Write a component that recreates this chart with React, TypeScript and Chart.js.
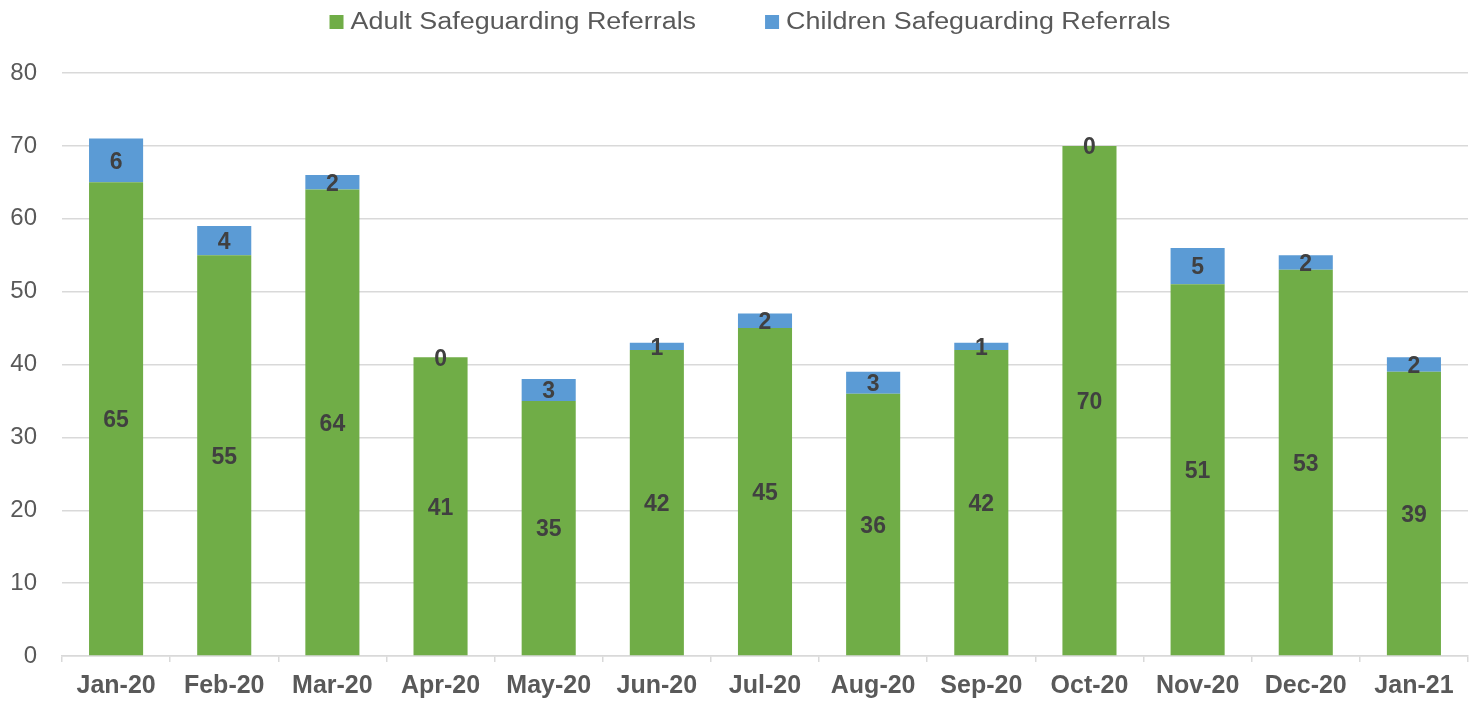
import React, { useEffect, useRef } from "react";
import { Chart, registerables } from "chart.js";

Chart.register(...registerables);

const months = ["Jan-20", "Feb-20", "Mar-20", "Apr-20", "May-20", "Jun-20", "Jul-20", "Aug-20", "Sep-20", "Oct-20", "Nov-20", "Dec-20", "Jan-21"];
const adultReferrals = [65, 55, 64, 41, 35, 42, 45, 36, 42, 70, 51, 53, 39];
const childrenReferrals = [6, 4, 2, 0, 3, 1, 2, 3, 1, 0, 5, 2, 2];
const seriesNames = ["Adult Safeguarding Referrals", "Children Safeguarding Referrals"];
const seriesColors = ["#70AD47", "#5B9BD5"];

const FONT = "'Liberation Sans', Arial, sans-serif";

const dataLabelPlugin = {
  id: "dataLabels",
  afterDatasetsDraw(chart: any) {
    const ctx = chart.ctx;
    ctx.save();
    ctx.font = `bold 23px ${FONT}`;
    ctx.fillStyle = "#404040";
    ctx.textAlign = "center";
    ctx.textBaseline = "middle";
    chart.data.datasets.forEach((ds: any, di: number) => {
      const meta = chart.getDatasetMeta(di);
      meta.data.forEach((el: any, i: number) => {
        const v = ds.data[i];
        const y = (el.y + el.base) / 2;
        ctx.fillText(String(v), el.x, y + 2);
      });
    });
    ctx.restore();
  },
};

const customLegendPlugin = {
  id: "customLegend",
  afterDraw(chart: any) {
    const ctx = chart.ctx;
    ctx.save();
    ctx.font = `23px ${FONT}`;
    ctx.textBaseline = "middle";
    ctx.textAlign = "left";
    const sx = 1.17;
    const box = 14;
    const gap = 7;
    const itemGap = 69;
    const items = chart.data.datasets.map((ds: any) => ({
      text: ds.label,
      color: ds.backgroundColor,
      tw: ctx.measureText(ds.label).width * sx,
    }));
    const total = items.reduce((s: number, it: any) => s + box + gap + it.tw, 0) + itemGap * (items.length - 1);
    let x = 750 - total / 2;
    const cy = 22;
    items.forEach((it: any) => {
      ctx.fillStyle = it.color;
      ctx.fillRect(x, cy - box / 2, box, box);
      ctx.fillStyle = "#595959";
      ctx.save();
      ctx.translate(x + box + gap, cy + 1);
      ctx.scale(sx, 1);
      ctx.fillText(it.text, 0, 0);
      ctx.restore();
      x += box + gap + it.tw + itemGap;
    });
    ctx.restore();
  },
};

export default function App() {
  const canvasRef = useRef<HTMLCanvasElement | null>(null);

  useEffect(() => {
    const canvas = canvasRef.current;
    if (!canvas) return;
    const chart = new Chart(canvas, {
      type: "bar",
      data: {
        labels: months,
        datasets: [
          {
            label: seriesNames[0],
            data: adultReferrals,
            backgroundColor: seriesColors[0],
            barPercentage: 0.5,
            categoryPercentage: 1.0,
          },
          {
            label: seriesNames[1],
            data: childrenReferrals,
            backgroundColor: seriesColors[1],
            barPercentage: 0.5,
            categoryPercentage: 1.0,
          },
        ],
      },
      options: {
        responsive: false,
        animation: false,
        layout: { padding: { top: 73, right: 10, left: 0, bottom: 0 } },
        plugins: {
          legend: { display: false },
          tooltip: { enabled: false },
        },
        scales: {
          x: {
            stacked: true,
            grid: {
              offset: true,
              drawOnChartArea: false,
              drawTicks: true,
              tickLength: 6,
              color: "#d9d9d9",
              lineWidth: 1.5,
            },
            border: { display: true, color: "#d9d9d9", width: 1.5 },
            ticks: {
              color: "#595959",
              font: { family: FONT, size: 25, weight: "bold" },
              padding: 9,
              maxRotation: 0,
              autoSkip: false,
            },
            afterFit: (s: any) => {
              s.height = 48;
            },
          },
          y: {
            stacked: true,
            min: 0,
            max: 80,
            ticks: {
              stepSize: 10,
              color: "#595959",
              font: { family: FONT, size: 24 },
              padding: 25,
            },
            grid: {
              drawTicks: false,
              color: "#d9d9d9",
              lineWidth: 1.5,
            },
            border: { display: false },
            afterFit: (s: any) => {
              s.width = 62;
            },
          },
        },
      },
      plugins: [dataLabelPlugin, customLegendPlugin],
    });
    return () => chart.destroy();
  }, []);

  return (
    <div style={{ position: "absolute", left: 0, top: 0, width: 1478, height: 704, background: "#fff" }}>
      <canvas ref={canvasRef} width={1478} height={704} style={{ display: "block" }} />
    </div>
  );
}
